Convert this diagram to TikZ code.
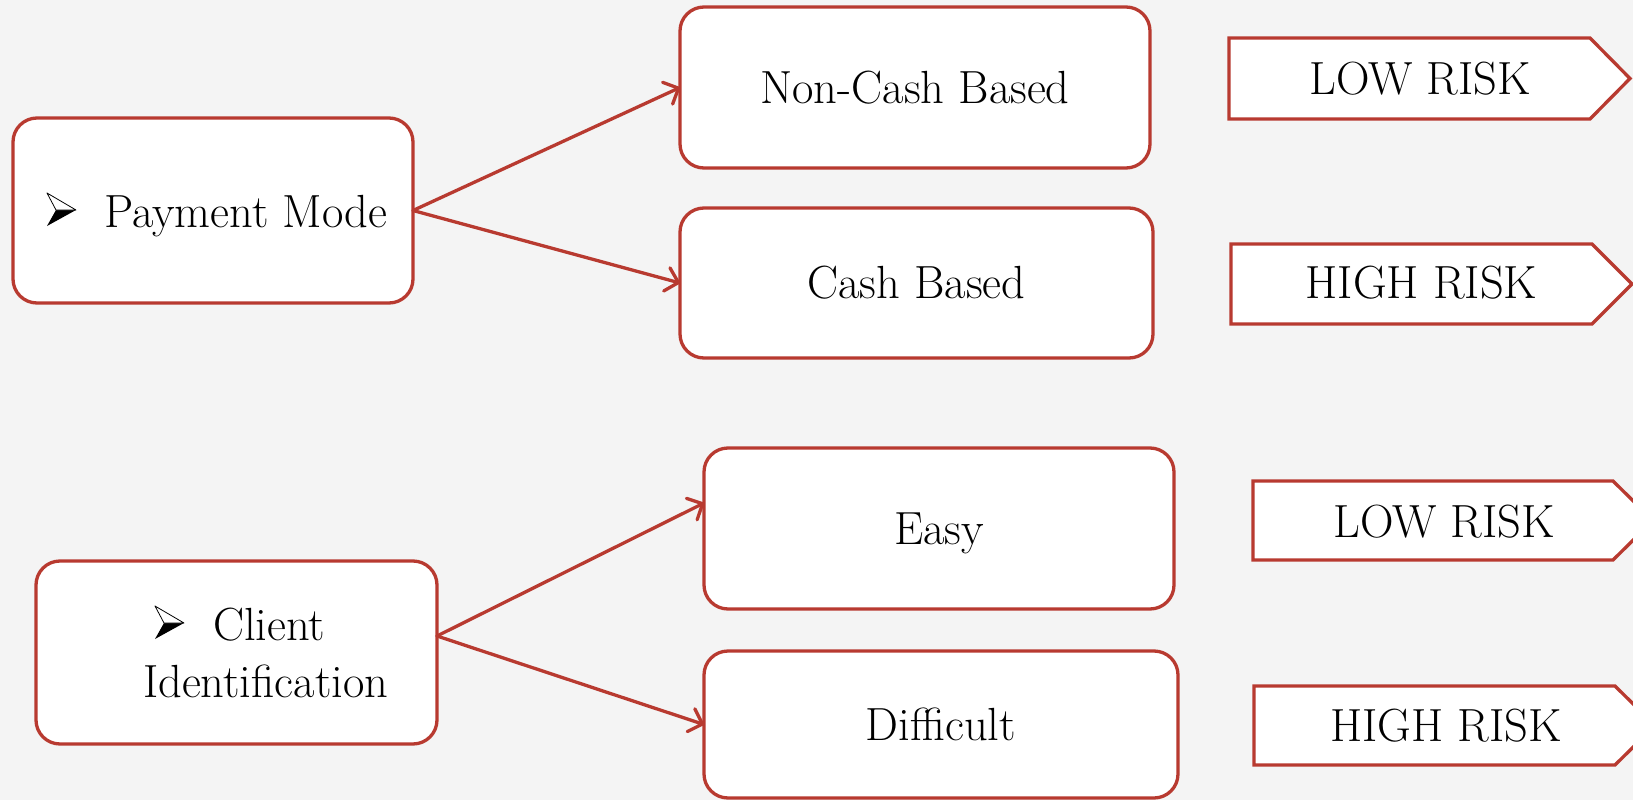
\documentclass[tikz,border=0pt]{standalone}
\usetikzlibrary{arrows.meta}
\definecolor{framered}{RGB}{184,58,48}
\definecolor{paper}{RGB}{244,244,244}
\begin{document}
\begin{tikzpicture}[x=1pt,y=-1pt,
  every node/.style={font=\fontsize{46.5}{57}\selectfont, text=black},
  optbox/.style={draw=framered, line width=3.3pt, fill=white,
    rounded corners=24pt, inner sep=0pt, outer sep=0pt,
    text height=31pt, text depth=0pt},
  txt/.style={inner sep=0pt, outer sep=0pt},
  riskframe/.style={draw=framered, line width=3.3pt, fill=white, line join=miter},
  link/.style={draw=framered, line width=3.3pt, line cap=round,
    -{Straight Barb[length=12pt,width=24pt,round]}},
  bullethead/.pic={
    \fill[black] (9,0) -- (29,0) -- (0,16) -- cycle;
    \filldraw[fill=white, draw=black, line width=0.8pt, line join=round]
      (0,-17) -- (29,0) -- (9,0) -- cycle;
  }
]
\useasboundingbox (0,0) rectangle (1633,800);
\clip (0,0) rectangle (1633,800);
\fill[paper] (0,0) rectangle (1633,800);

% criteria boxes
\node[optbox, minimum width=400pt, minimum height=185pt] (pay) at (213,210.5) {};
\node[txt, anchor=base west] (paytxt) at (104,227) {Payment Mode};
\pic at (47,210) {bullethead};

\node[optbox, minimum width=401pt, minimum height=183pt] (client) at (236.5,652.5) {};
\node[txt, anchor=base west] (clienttxt) at (213,640) {Client};
\node[txt, anchor=base west] (identtxt) at (143,697) {Identification};
\pic at (155,623) {bullethead};

% options
\node[optbox, minimum width=470pt, minimum height=161pt] (noncash) at (915,87.5) {Non-Cash Based};
\node[optbox, minimum width=473pt, minimum height=150pt] (cash) at (916.5,283) {Cash Based};
\node[optbox, minimum width=470pt, minimum height=161pt] (easy) at (939,528.5) {Easy};
\node[optbox, minimum width=474pt, minimum height=147pt] (diff) at (941,724.5) {Difficult};

% connectors
\draw[link] (pay.east) -- (noncash.west);
\draw[link] (pay.east) -- (cash.west);
\draw[link] ([yshift=16.5pt]client.east) -- ([yshift=25.5pt]easy.west);
\draw[link] ([yshift=16.5pt]client.east) -- (diff.west);

% risk tags
\draw[riskframe] (1229,38) -- (1590,38) -- (1630,78.5) -- (1590,119) -- (1229,119) -- cycle;
\node[txt, anchor=base] (risk1) at (1420,94) {LOW RISK};
\draw[riskframe] (1231,244) -- (1592,244) -- (1632,284) -- (1592,324) -- (1231,324) -- cycle;
\node[txt, anchor=base] (risk2) at (1421.5,298) {HIGH RISK};
\draw[riskframe] (1253,481) -- (1613,481) -- (1653,520.5) -- (1613,560) -- (1253,560) -- cycle;
\node[txt, anchor=base] (risk3) at (1444,537) {LOW RISK};
\draw[riskframe] (1254,686) -- (1615,686) -- (1655,725.5) -- (1615,765) -- (1254,765) -- cycle;
\node[txt, anchor=base] (risk4) at (1446,741) {HIGH RISK};
\end{tikzpicture}
\end{document}
